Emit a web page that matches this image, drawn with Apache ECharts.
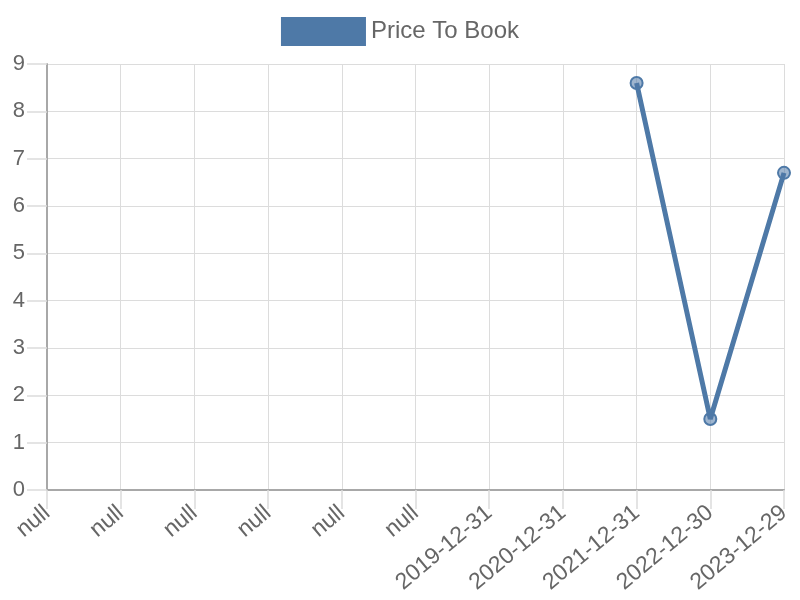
<!DOCTYPE html>
<html>
<head>
	<meta charset="utf-8">
	<script src="https://cdn.jsdelivr.net/npm/echarts@6/dist/echarts.min.js"></script>
	<title>Price To Book</title>
	<style>
		body { margin: 0; }
	</style>
</head>
<body>
	<div id="main" style="width: 800px;height:600px;"></div>

	<script type="text/javascript">
	    // data
	    var categories = ['null', 'null', 'null', 'null', 'null', 'null',
	        '2019-12-31', '2020-12-31', '2021-12-31', '2022-12-30', '2023-12-29'];
	    var priceToBook = [null, null, null, null, null, null, null, null, 8.6, 1.5, 6.7];
	    var yTicks = { min: 0, max: 9, interval: 1 };

	    var myChart = echarts.init(document.getElementById('main'));

	    var lineColor = '#4e79a7';
	    var gridColor = '#dcdcdc';
	    var axisColor = '#a8a8a8';
	    var textColor = '#666';
	    var font = 'Liberation Sans, Arial, sans-serif';

	    var option = {
	        animation: false,
	        textStyle: { fontFamily: font },
	        legend: {
	            data: ['Price To Book'],
	            top: 12,
	            left: 'center',
	            icon: 'rect',
	            itemWidth: 85,
	            itemHeight: 29,
	            itemGap: 10,
	            itemStyle: { color: lineColor, borderWidth: 0 },
	            textStyle: { fontSize: 24, color: textColor, fontFamily: font }
	        },
	        grid: { left: 47, right: 16, top: 64, bottom: 110, containLabel: false },
	        xAxis: {
	            type: 'category',
	            data: categories,
	            boundaryGap: false,
	            axisLine: { lineStyle: { color: axisColor, width: 2 } },
	            axisTick: { show: true, inside: false, length: 19, lineStyle: { color: gridColor, width: 1.5 } },
	            axisLabel: { rotate: 40, fontSize: 23, color: textColor, margin: 20, interval: 0, fontFamily: font },
	            splitLine: { show: true, lineStyle: { color: gridColor, width: 1 } }
	        },
	        yAxis: {
	            type: 'value',
	            min: yTicks.min,
	            max: yTicks.max,
	            interval: yTicks.interval,
	            axisLine: { show: true, lineStyle: { color: axisColor, width: 2 } },
	            axisTick: { show: true, inside: false, length: 20, lineStyle: { color: gridColor, width: 1.5 } },
	            axisLabel: { fontSize: 22, color: textColor, margin: 22, fontFamily: font },
	            splitLine: { show: true, lineStyle: { color: gridColor, width: 1 } }
	        },
	        series: [{
	            name: 'Price To Book',
	            type: 'line',
	            data: priceToBook,
	            connectNulls: false,
	            symbol: 'circle',
	            symbolSize: 12,
	            showSymbol: true,
	            color: lineColor,
	            lineStyle: { color: lineColor, width: 5 },
	            itemStyle: {
	                color: 'rgba(78,121,167,0.55)',
	                borderColor: lineColor,
	                borderWidth: 2
	            },
	            z: 3
	        }]
	    };

	    myChart.setOption(option);
	</script>
</body>
</html>
